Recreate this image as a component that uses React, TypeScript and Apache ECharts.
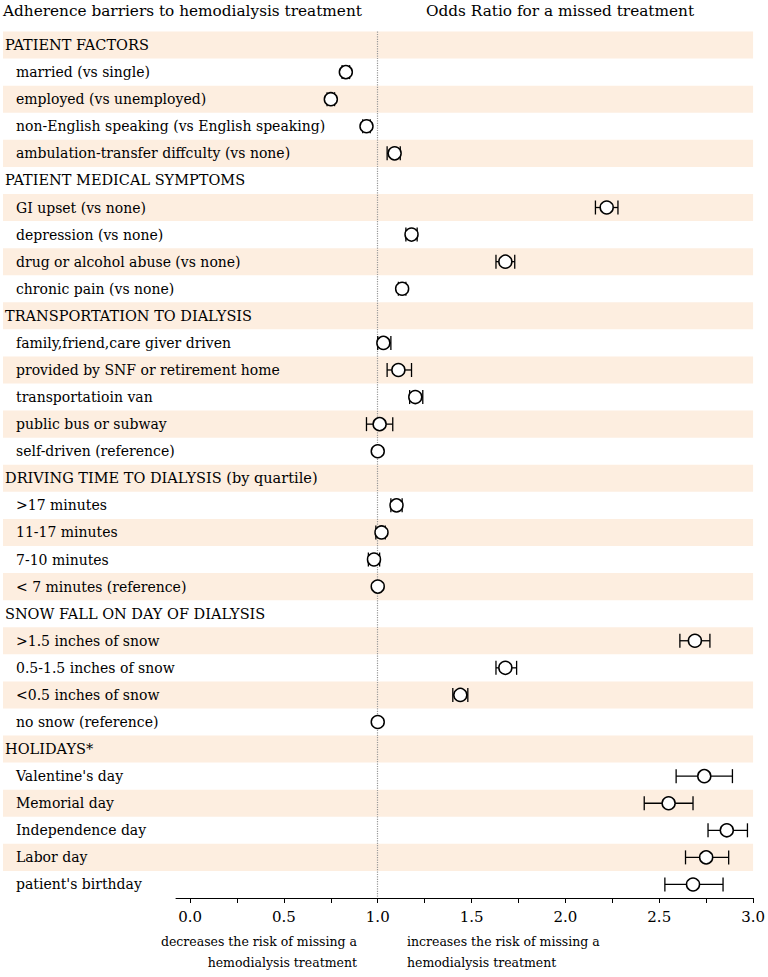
import React, { useEffect, useRef } from "react";
import * as echarts from "echarts";

const categories = [
  "PATIENT FACTORS",
  "married (vs single)",
  "employed (vs unemployed)",
  "non-English speaking (vs English speaking)",
  "ambulation-transfer diffculty (vs none)",
  "PATIENT MEDICAL SYMPTOMS",
  "GI upset (vs none)",
  "depression (vs none)",
  "drug or alcohol abuse (vs none)",
  "chronic pain (vs none)",
  "TRANSPORTATION TO DIALYSIS",
  "family,friend,care giver driven",
  "provided by SNF or retirement home",
  "transportatioin van",
  "public bus or subway",
  "self-driven (reference)",
  "DRIVING TIME TO DIALYSIS (by quartile)",
  ">17 minutes",
  "11-17 minutes",
  "7-10 minutes",
  "< 7 minutes (reference)",
  "SNOW FALL ON DAY OF DIALYSIS",
  ">1.5 inches of snow",
  "0.5-1.5 inches of snow",
  "<0.5 inches of snow",
  "no snow (reference)",
  "HOLIDAYS*",
  "Valentine's day",
  "Memorial day",
  "Independence day",
  "Labor day",
  "patient's birthday",
];

const headerRows = [
  "PATIENT FACTORS",
  "PATIENT MEDICAL SYMPTOMS",
  "TRANSPORTATION TO DIALYSIS",
  "DRIVING TIME TO DIALYSIS (by quartile)",
  "SNOW FALL ON DAY OF DIALYSIS",
  "HOLIDAYS*",
];

// odds ratio per row (null = header row)
const oddsRatio = [
  null, 0.83, 0.75, 0.94, 1.09,
  null, 2.22, 1.18, 1.68, 1.13,
  null, 1.03, 1.11, 1.2, 1.01, 1.0,
  null, 1.1, 1.02, 0.98, 1.0,
  null, 2.69, 1.68, 1.44, 1.0,
  null, 2.74, 2.55, 2.86, 2.75, 2.68,
];
// 95% CI lower / upper (null = no interval drawn)
const ciLower = [
  null, 0.81, 0.73, 0.92, 1.05,
  null, 2.16, 1.15, 1.63, 1.11,
  null, 1.0, 1.05, 1.17, 0.94, null,
  null, 1.07, 0.99, 0.95, null,
  null, 2.61, 1.63, 1.4, null,
  null, 2.59, 2.42, 2.76, 2.64, 2.53,
];
const ciUpper = [
  null, 0.85, 0.77, 0.96, 1.12,
  null, 2.28, 1.21, 1.73, 1.15,
  null, 1.07, 1.18, 1.24, 1.08, null,
  null, 1.13, 1.04, 1.01, null,
  null, 2.77, 1.74, 1.48, null,
  null, 2.89, 2.68, 2.97, 2.87, 2.84,
];

const xTickLabels = [0, 0.5, 1, 1.5, 2, 2.5, 3];
const xTicks = [0, 0.25, 0.5, 0.75, 1, 1.25, 1.5, 1.75, 2, 2.25, 2.5, 2.75, 3];

const FONT = "'DejaVu Serif', 'Liberation Serif', serif";

export default function App() {
  const ref = useRef<HTMLDivElement>(null);

  useEffect(() => {
    const chart = echarts.init(ref.current!, null, { renderer: "svg" });

    const bandData = categories.map((_, i) => [0, i]).filter((_, i) => i % 2 === 0);
    const pointData: any[] = [];
    const ciData: any[] = [];
    categories.forEach((_, i) => {
      if (oddsRatio[i] != null) pointData.push([oddsRatio[i], i]);
      if (ciLower[i] != null && ciUpper[i] != null) ciData.push([ciLower[i], ciUpper[i], i]);
    });

    chart.setOption({
      animation: false,
      backgroundColor: "#ffffff",
      grid: { left: 176, right: 14, top: 31.5, bottom: 79, containLabel: false },
      graphic: [
        {
          type: "text",
          left: 3,
          top: 3,
          style: { text: "Adherence barriers to hemodialysis treatment", font: `15.3px ${FONT}`, fill: "#000" },
        },
        {
          type: "text",
          x: 560,
          y: 3,
          style: { text: "Odds Ratio for a missed treatment", font: `15.3px ${FONT}`, fill: "#000", align: "center" },
        },
        {
          type: "text",
          x: 357,
          y: 931,
          style: {
            text: "decreases the risk of missing a\nhemodialysis treatment",
            font: `12.5px ${FONT}`,
            fill: "#000",
            align: "right",
            lineHeight: 21,
          },
        },
        {
          type: "text",
          x: 407,
          y: 931,
          style: {
            text: "increases the risk of missing a\nhemodialysis treatment",
            font: `12.5px ${FONT}`,
            fill: "#000",
            align: "left",
            lineHeight: 21,
          },
        },
      ],
      xAxis: {
        type: "value",
        min: -0.075,
        max: 3,
        axisLine: { show: true, lineStyle: { color: "#000", width: 1 } },
        axisTick: { show: true, length: 5, customValues: xTicks, lineStyle: { color: "#000" } },
        axisLabel: {
          customValues: xTickLabels,
          formatter: (v: number) => v.toFixed(1),
          fontFamily: FONT,
          fontSize: 15,
          color: "#000",
          margin: 11,
        },
        splitLine: { show: false },
      },
      yAxis: {
        type: "category",
        data: categories,
        inverse: true,
        axisLine: { show: false },
        axisTick: { show: false },
        splitLine: { show: false },
        axisLabel: {
          align: "left",
          margin: 171,
          interval: 0,
          formatter: (v: string) => (headerRows.includes(v) ? `{h|${v}}` : `{i|${v}}`),
          rich: {
            h: { fontFamily: FONT, fontSize: 14.5, color: "#000" },
            i: { fontFamily: FONT, fontSize: 14, color: "#000", padding: [0, 0, 0, 11] },
          },
        },
      },
      series: [
        {
          type: "custom",
          name: "bands",
          clip: false,
          silent: true,
          z: 0,
          encode: { x: 0, y: 1 },
          data: bandData,
          renderItem: (params: any, api: any) => {
            const c = api.coord([0, api.value(1)]);
            const hh = api.size([0, 1])[1];
            const cs = params.coordSys;
            return {
              type: "rect",
              shape: { x: 3, y: c[1] - hh / 2, width: cs.x + cs.width - 3, height: hh },
              style: { fill: "#fdeee0" },
            };
          },
        },
        {
          type: "custom",
          name: "ci",
          clip: false,
          silent: true,
          z: 3,
          encode: { x: [0, 1], y: 2 },
          data: ciData,
          renderItem: (_params: any, api: any) => {
            const lo = api.coord([api.value(0), api.value(2)]);
            const hi = api.coord([api.value(1), api.value(2)]);
            const h = 7;
            const st = { stroke: "#000", lineWidth: 1.3 };
            return {
              type: "group",
              children: [
                { type: "line", shape: { x1: lo[0], y1: lo[1], x2: hi[0], y2: hi[1] }, style: st },
                { type: "line", shape: { x1: lo[0], y1: lo[1] - h, x2: lo[0], y2: lo[1] + h }, style: st },
                { type: "line", shape: { x1: hi[0], y1: hi[1] - h, x2: hi[0], y2: hi[1] + h }, style: st },
              ],
            };
          },
        },
        {
          type: "scatter",
          name: "OR",
          z: 4,
          symbol: "circle",
          symbolSize: 13,
          itemStyle: { color: "#ffffff", borderColor: "#000", borderWidth: 1.5, opacity: 1 },
          data: pointData,
          markLine: {
            silent: true,
            symbol: ["none", "none"],
            label: { show: false },
            lineStyle: { type: "dotted", color: "#999", width: 1.2 },
            data: [{ xAxis: 1 }],
            z: 1,
          },
        },
      ],
    });

    return () => chart.dispose();
  }, []);

  return <div ref={ref} style={{ position: "absolute", left: 0, top: 0, width: 768, height: 977 }} />;
}
